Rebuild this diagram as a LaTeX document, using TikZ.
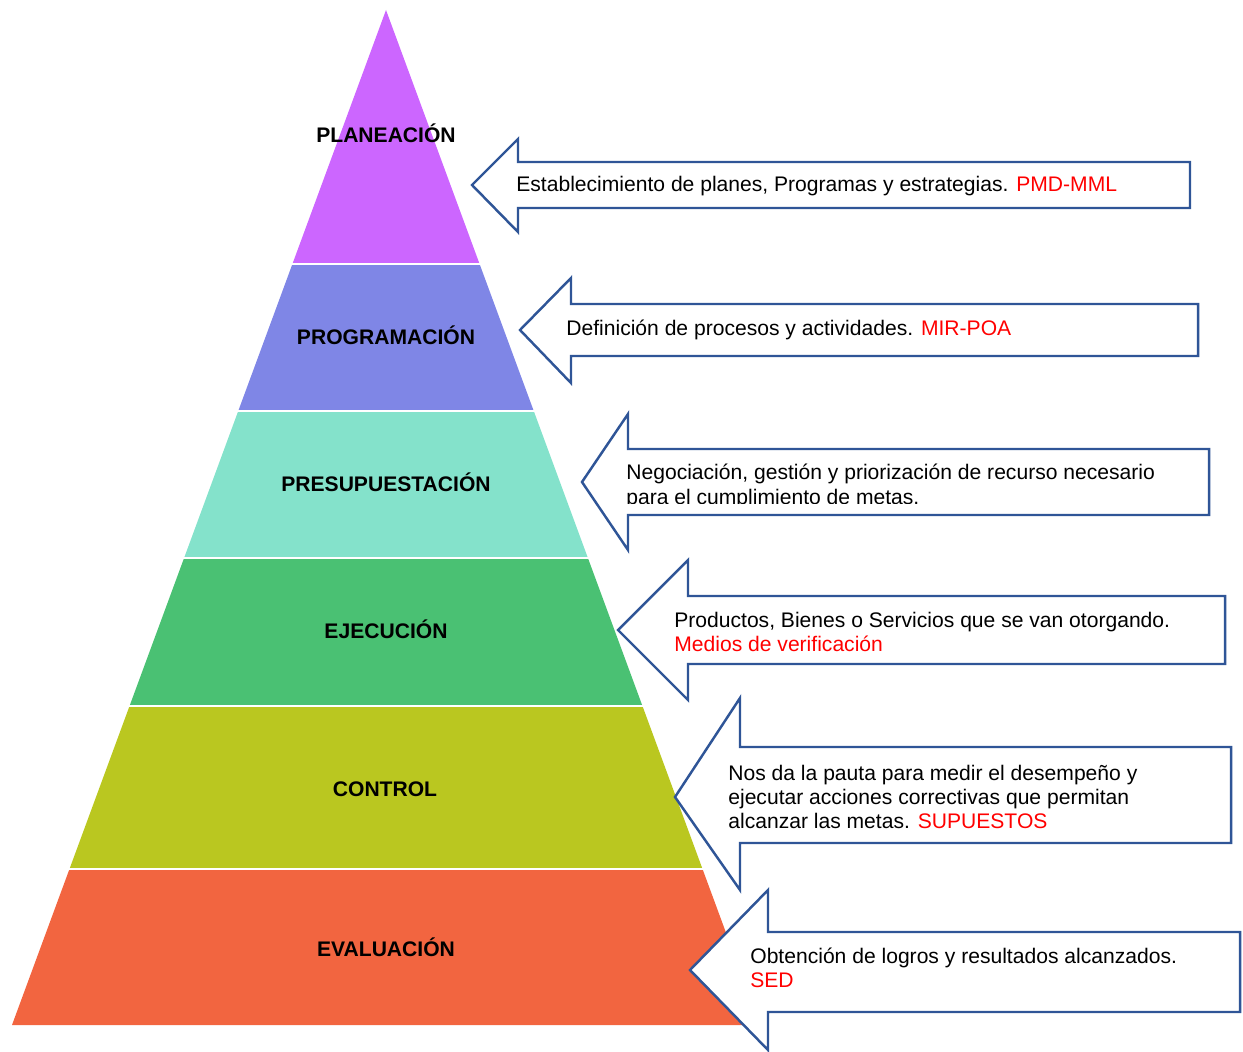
\documentclass[tikz,border=0pt]{standalone}
\usepackage{fontspec}
\setmainfont{Liberation Sans}
\usepackage{tikz}
\usepackage{xcolor}
\usetikzlibrary{positioning}

\definecolor{planc}{HTML}{CC66FF}
\definecolor{progc}{HTML}{7F86E6}
\definecolor{presuc}{HTML}{84E2CB}
\definecolor{ejecc}{HTML}{4AC173}
\definecolor{ctrlc}{HTML}{BAC720}
\definecolor{evalc}{HTML}{F26540}
\definecolor{arrowblue}{HTML}{2F5597}
\definecolor{tagred}{HTML}{FF0000}

\begin{document}
\begin{tikzpicture}[x=0.02cm, y=-0.02cm,
    layer label/.style={font=\fontsize{12}{13.8}\selectfont\bfseries, inner sep=0pt},
    arrow box/.style={draw=arrowblue, fill=white, line width=1.4pt, line join=miter},
    arrow text/.style={font=\fontsize{12}{13.8}\selectfont, anchor=west, align=left, inner sep=0pt}]
    \useasboundingbox (0,0) rectangle (1243,1051);

    % pyramid, one clipped band per level
    \coordinate (apex) at (386,10);
    \foreach \top/\bot/\col in {10/262/planc, 265/409/progc, 412/556/presuc,
                                559/704/ejecc, 707/867/ctrlc, 870/1025/evalc}{
        \begin{scope}
            \clip (0,\top) rectangle (1243,\bot);
            \fill[\col] (apex) -- (12,1025) -- (760,1025) -- cycle;
        \end{scope}
    }

    \node[layer label] (plan) at (386,133) {PLANEACIÓN};
    \node[layer label] (prog) at (386,335) {PROGRAMACIÓN};
    \node[layer label] (presu) at (386,482) {PRESUPUESTACIÓN};
    \node[layer label] (ejec) at (386,629) {EJECUCIÓN};
    \node[layer label] (ctrl) at (385,789) {CONTROL};
    \node[layer label] (eval) at (386,947) {EVALUACIÓN};

    % block arrows pointing at the levels
    \draw[arrow box] (472,185) -- (518,139) -- (518,162) -- (1190,162) -- (1190,208) -- (518,208) -- (518,232) -- cycle;
    \draw[arrow box] (520,330) -- (571,278) -- (571,304) -- (1198,304) -- (1198,356) -- (571,356) -- (571,383) -- cycle;
    \draw[arrow box] (582,482) -- (628,414) -- (628,449) -- (1209,449) -- (1209,515) -- (628,515) -- (628,550) -- cycle;
    \draw[arrow box] (618,630) -- (688,560) -- (688,596) -- (1225,596) -- (1225,664) -- (688,664) -- (688,700) -- cycle;
    \draw[arrow box] (675,797) -- (740,698) -- (740,747) -- (1231,747) -- (1231,843) -- (740,843) -- (740,890) -- cycle;
    \draw[arrow box] (690,970) -- (768,890) -- (768,932) -- (1240,932) -- (1240,1012) -- (768,1012) -- (768,1050) -- cycle;

    \node[arrow text] (tplan) at (516,186) {Establecimiento de planes, Programas y estrategias. \textcolor{tagred}{PMD-MML}};
    \node[arrow text] (tprog) at (566,330) {Definición de procesos y actividades. \textcolor{tagred}{MIR-POA}};
    \begin{scope}
        \clip (600,430) rectangle (1205,503.5);
        \node[arrow text] (tpresu) at (626,486.5) {Negociación, gestión y priorización de recurso necesario\\para el cumplimiento de metas.};
    \end{scope}
    \node[arrow text] (tejec) at (674,632) {Productos, Bienes o Servicios que se van otorgando.\\\textcolor{tagred}{Medios de verificación}};
    \node[arrow text] (tctrl) at (728,797) {Nos da la pauta para medir el desempeño y\\ejecutar acciones correctivas que permitan\\alcanzar las metas. \textcolor{tagred}{SUPUESTOS}};
    \node[arrow text] (teval) at (750,968) {Obtención de logros y resultados alcanzados.\\\textcolor{tagred}{SED}};
\end{tikzpicture}
\end{document}
